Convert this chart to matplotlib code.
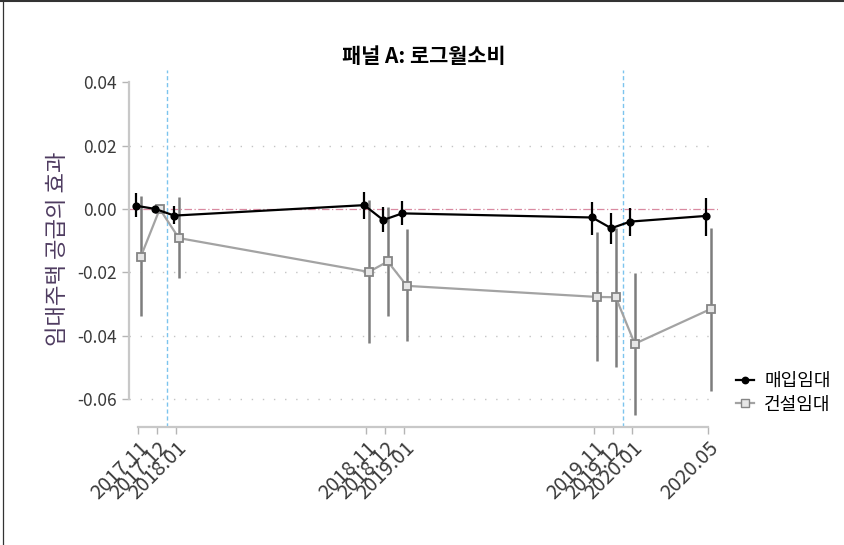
import matplotlib
matplotlib.use("Agg")
import matplotlib.pyplot as plt
from matplotlib.lines import Line2D
import numpy as np

plt.rcParams['font.family'] = ['Noto Sans CJK KR', 'DejaVu Sans']

# Survey months (monthly time axis starting 2017.11)
months = ["2017.11", "2017.12", "2018.01", "2018.11", "2018.12", "2019.01",
          "2019.11", "2019.12", "2020.01", "2020.05"]
month_index = [0, 1, 2, 12, 13, 14, 24, 25, 26, 30]

# 매입임대 (purchase rental) estimates and 95% CI
buy_est = [0.0010, 0.0, -0.0021, 0.0012, -0.0035, -0.0014, -0.0027, -0.0061, -0.0040, -0.0022]
buy_lo = [-0.0024, np.nan, -0.0048, -0.0032, -0.0072, -0.0052, -0.0081, -0.0111, -0.0086, -0.0084]
buy_hi = [0.0050, np.nan, 0.0010, 0.0055, 0.0005, 0.0025, 0.0022, -0.0012, 0.0004, 0.0034]

# 건설임대 (construction rental) estimates and 95% CI
build_est = [-0.0151, 0.0, -0.0092, -0.0199, -0.0166, -0.0243, -0.0278, -0.0279, -0.0426, -0.0316]
build_lo = [-0.0338, np.nan, -0.0219, -0.0422, -0.0338, -0.0417, -0.0479, -0.0499, -0.0651, -0.0574]
build_hi = [0.0042, np.nan, 0.0038, 0.0027, 0.0005, -0.0064, -0.0074, -0.0061, -0.0203, -0.0059]

# Policy event markers (between months)
events = [1.5, 25.5]

y_ticks = [0.04, 0.02, 0.00, -0.02, -0.04, -0.06]

fig = plt.figure(figsize=(8.45, 5.45), dpi=100)
ax = fig.add_axes([129 / 845, 1 - 426.7 / 545, (718 - 129) / 845, (426.7 - 70) / 545])

x = np.array(month_index, dtype=float)
dodge = 0.12
xb = x - dodge
xg = x + dodge

# background grid
for yt in y_ticks:
    if yt in (0.0, 0.04):
        continue
    ax.axhline(yt, color='#c4c4c4', lw=1.0, ls=(0, (1, 7)), zorder=0)
ax.axhline(0.0, color='#d98aa1', lw=0.9, ls=(0, (6, 2, 1, 2)), zorder=1)
for ev in events:
    ax.axvline(ev, color='#7cc4ee', lw=1.0, ls=(0, (3, 2)), zorder=1)

def draw_series(xs, est, lo, hi, line_c, err_c, marker, msize, mfc, mec, lw_err, zb):
    est = np.array(est); lo = np.array(lo); hi = np.array(hi)
    for xi, l, h in zip(xs, lo, hi):
        if np.isnan(l):
            continue
        ax.plot([xi, xi], [l, h], color=err_c, lw=lw_err, solid_capstyle='butt', zorder=zb)
    ax.plot(xs, est, color=line_c, lw=1.6, zorder=zb + 0.5)
    ax.plot(xs, est, ls='none', marker=marker, ms=msize, mfc=mfc, mec=mec,
            mew=1.3, zorder=zb + 1)

draw_series(xg, build_est, build_lo, build_hi, '#a3a3a3', '#7d7d7d', 's', 6.2,
            '#e6e6e6', '#858585', 1.8, 3)
draw_series(xb, buy_est, buy_lo, buy_hi, '#000000', '#000000', 'o', 4.6,
            '#000000', '#000000', 1.6, 6)

ax.set_xlim(-0.5, 30.5)
ax.set_ylim(-0.0688, 0.0439)

ax.set_yticks(y_ticks)
ax.set_yticklabels([f"{v:.2f}" for v in y_ticks])
ax.set_xticks(month_index)
ax.set_xticklabels(months, rotation=45, ha='right', rotation_mode='anchor')

for s in ['top', 'right']:
    ax.spines[s].set_visible(False)
ax.spines['left'].set_bounds(-0.06, 0.04)
ax.spines['bottom'].set_bounds(0, 30)
for s in ['left', 'bottom']:
    ax.spines[s].set_color('#c8c8c8')
    ax.spines[s].set_linewidth(1.6)
ax.tick_params(axis='both', colors='#b5b5b5', length=5, width=1.0,
               labelcolor='#3a3a3a', labelsize=12.5)
ax.tick_params(axis='x', pad=3, labelsize=14.5)
for lbl in ax.get_xticklabels():
    lbl.set_fontweight('light')

ax.set_ylabel("임대주택 공급의 효과", fontsize=16, color='#4e3b60', labelpad=6)
ax.set_title("패널 A: 로그월소비", fontsize=15, fontweight='bold', pad=5)

handles = [
    Line2D([0], [0], color='#000000', lw=1.6, marker='o', ms=4.6, mfc='#000000', mec='#000000'),
    Line2D([0], [0], color='#a3a3a3', lw=1.6, marker='s', ms=5.5, mfc='#e6e6e6', mec='#858585'),
]
fig.legend(handles, ["매입임대", "건설임대"], loc='center left',
           bbox_to_anchor=(729 / 845, 1 - 393 / 545), frameon=False,
           fontsize=13, handlelength=1.0, handletextpad=0.55, labelspacing=0.3,
           borderaxespad=0)

# outer frame lines (top and left edges)
fig.add_artist(Line2D([0, 1], [1 - 0.8 / 545, 1 - 0.8 / 545], transform=fig.transFigure,
                      color='#333333', lw=1.5))
fig.add_artist(Line2D([3 / 845, 3 / 845], [0, 1], transform=fig.transFigure,
                      color='#333333', lw=0.9))

fig.savefig("out.png", dpi=100)
